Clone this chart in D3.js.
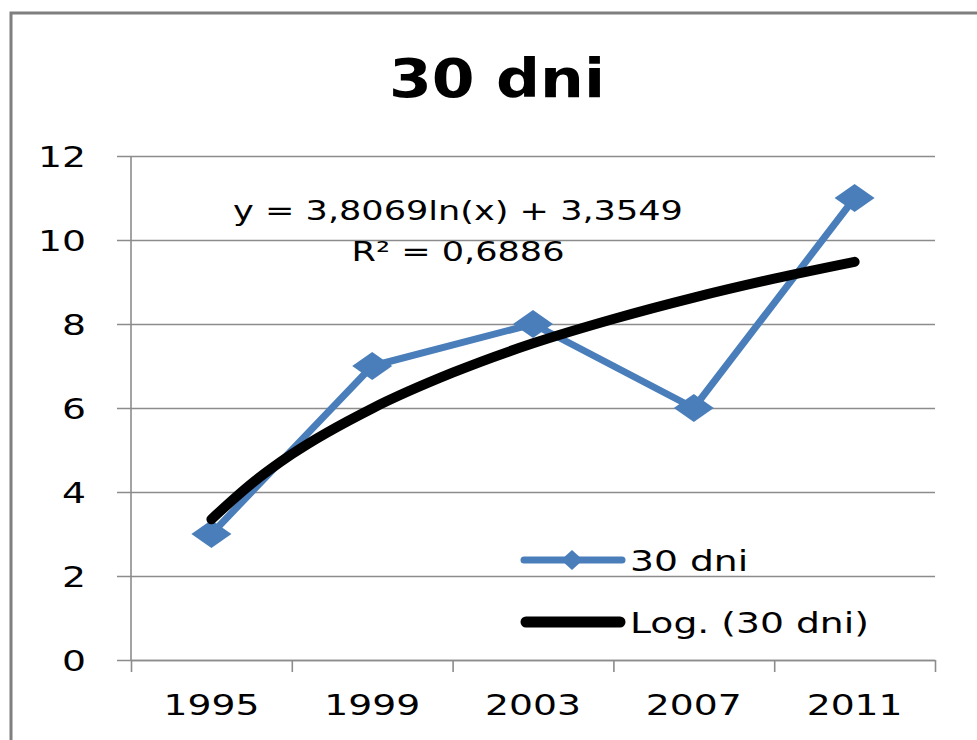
<!DOCTYPE html>
<html><head><meta charset="utf-8">
<script src="https://cdn.jsdelivr.net/npm/d3@7/dist/d3.min.js"></script>
<style>body{margin:0;background:#fff;overflow:hidden}</style>
</head><body><svg id="c" width="977" height="740"></svg>
<script>
const categories = ["1995","1999","2003","2007","2011"];
const values = [3,7,8,6,11];
const yTicks = [0,2,4,6,8,10,12];
const trendX = [1,1.25,1.5,2,2.5,3,3.5,4,4.5,5];
const trendY = [3.35,4.20,4.90,5.99,6.84,7.54,8.12,8.63,9.08,9.48];
const title = "30 dni";
const equation = "y = 3,8069ln(x) + 3,3549";
const rSquared = "R² = 0,6886";
const seriesName = "30 dni";
const trendName = "Log. (30 dni)";

const svg = d3.select("#c");
const font = "'DejaVu Sans', Verdana, sans-serif";
const SX = 1.3;
const blue = "#4a7ebb";
const gridCol = "#8c8c8c";
const L = 131, R = 935, T = 156, B = 660;

const x = d3.scaleBand().domain(categories).range([L, R]);
const xc = d => x(d) + x.bandwidth() / 2;
const xi = d3.scaleLinear().domain([1, categories.length]).range([xc(categories[0]), xc(categories[categories.length - 1])]);
const xb = d3.scaleLinear().domain([0, categories.length]).range([L, R]);
const y = d3.scaleLinear().domain([0, 12]).range([B, T]);

function txt(g, s, px, py, size, anchor, weight, sx) {
  return g.append("text")
    .attr("transform", `translate(${px},${py}) scale(${sx || SX},1)`)
    .attr("text-anchor", anchor || "start")
    .attr("font-family", font)
    .attr("font-size", size)
    .attr("font-weight", weight || "normal")
    .attr("fill", "#000")
    .text(s);
}

// chart border
svg.append("rect").attr("x", 11).attr("y", 13).attr("width", 1000).attr("height", 800)
  .attr("fill", "#fff").attr("stroke", "#7f7f7f").attr("stroke-width", 3);

// gridlines (with outward tick stubs)
const grid = svg.append("g").attr("transform", `translate(117,0)`)
  .call(d3.axisRight(y).tickValues(yTicks).tickSize(R - 117).tickFormat(""));
grid.select(".domain").remove();
grid.selectAll("line").attr("stroke", gridCol).attr("stroke-width", 1.6);

// y axis line
svg.append("line").attr("x1", L).attr("x2", L).attr("y1", y(12)).attr("y2", B)
  .attr("stroke", gridCol).attr("stroke-width", 1.6);

// x axis with boundary ticks
const xa = svg.append("g").attr("transform", `translate(0,${B})`)
  .call(d3.axisBottom(xb).tickValues(d3.range(0, categories.length + 1)).tickSize(12).tickSizeOuter(0).tickFormat(""));
xa.select(".domain").attr("stroke", gridCol).attr("stroke-width", 1.6);
xa.selectAll("line").attr("stroke", gridCol).attr("stroke-width", 1.6);

// y tick labels
const yl = svg.append("g");
yTicks.forEach(v => txt(yl, String(v), 86, y(v) + 11, 29, "end"));

// x tick labels
const xl = svg.append("g");
categories.forEach(c => txt(xl, c, xc(c), 715, 29, "middle"));

// title
txt(svg, title, 497, 97, 54, "middle", "bold", 1.14);

// data series
svg.append("path").datum(values)
  .attr("d", d3.line().x((d, i) => xc(categories[i])).y(d => y(d)))
  .attr("fill", "none").attr("stroke", blue).attr("stroke-width", 7)
  .attr("stroke-linejoin", "round");

const diamond = (w, h) => `M0,${-h}L${w},0L0,${h}L${-w},0Z`;
svg.append("g").selectAll("path").data(values).join("path")
  .attr("transform", (d, i) => `translate(${xc(categories[i])},${y(d)})`)
  .attr("d", diamond(20, 14)).attr("fill", blue);

// trendline (drawn on top of the series)
const trendData = trendX.map((v, i) => [v, trendY[i]]);
svg.append("path").datum(trendData)
  .attr("d", d3.line().x(d => xi(d[0])).y(d => y(d[1])).curve(d3.curveMonotoneX))
  .attr("fill", "none").attr("stroke", "#000").attr("stroke-width", 10)
  .attr("stroke-linecap", "round").attr("stroke-linejoin", "round");

// equation labels
txt(svg, equation, 458, 220, 27, "middle");
txt(svg, rSquared, 458, 261, 27, "middle");

// legend
const lg = svg.append("g");
lg.append("line").attr("x1", 524).attr("x2", 622).attr("y1", 560).attr("y2", 560)
  .attr("stroke", blue).attr("stroke-width", 7).attr("stroke-linecap", "round");
lg.append("path").attr("transform", "translate(572,560)").attr("d", diamond(11, 10)).attr("fill", blue);
txt(lg, seriesName, 630, 571, 29, "start");
lg.append("line").attr("x1", 526).attr("x2", 620).attr("y1", 622).attr("y2", 622)
  .attr("stroke", "#000").attr("stroke-width", 11).attr("stroke-linecap", "round");
txt(lg, trendName, 630, 633, 29, "start");
</script>
</body></html>
